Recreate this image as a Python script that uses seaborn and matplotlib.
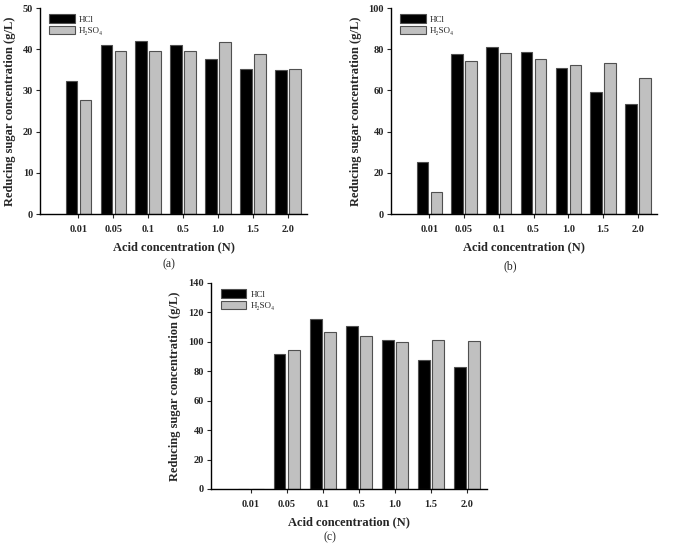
import matplotlib
matplotlib.use("Agg")
import matplotlib.pyplot as plt
import seaborn as sns
import pandas as pd
from matplotlib.patches import Patch

categories = ["0.01", "0.05", "0.1", "0.5", "1.0", "1.5", "2.0"]
acids = ["HCl", "H₂SO₄"]

hcl_a = [32.4, 41.0, 42.1, 41.0, 37.7, 35.3, 34.9]
h2so4_a = [27.6, 39.5, 39.5, 39.5, 41.7, 38.8, 35.1]

hcl_b = [25.2, 77.7, 81.1, 78.7, 71.1, 59.0, 53.5]
h2so4_b = [10.8, 74.3, 78.2, 75.1, 72.5, 73.2, 66.2]

hcl_c = [0.0, 91.9, 115.5, 110.5, 101.2, 88.0, 82.6]
h2so4_c = [0.0, 94.8, 106.6, 103.7, 99.6, 101.2, 100.7]

yticks_a = [0, 10, 20, 30, 40, 50]
yticks_b = [0, 20, 40, 60, 80, 100]
yticks_c = [0, 20, 40, 60, 80, 100, 120, 140]

sns.set_style("ticks")
plt.rcParams["font.family"] = ["Liberation Serif", "DejaVu Serif"]

W, H = 682, 545
fig = plt.figure(figsize=(W / 100, H / 100), dpi=100)


def px_axes(left, top, right, bottom):
    return fig.add_axes([left / W, 1 - bottom / H, (right - left) / W, (bottom - top) / H])


palette = {"HCl": "#000000", "H₂SO₄": "#c0c0c0"}


def panel(ax, hcl, h2so4, yticks, caption, cap_xy):
    df = pd.DataFrame({
        "Acid concentration": categories * 2,
        "Acid": [acids[0]] * len(categories) + [acids[1]] * len(categories),
        "value": list(hcl) + list(h2so4),
    })
    sns.barplot(data=df, x="Acid concentration", y="value", hue="Acid",
                order=categories, hue_order=acids, palette=palette,
                width=0.8, gap=0.18, edgecolor="#505050", linewidth=0.8,
                ax=ax, legend=False)
    ax.set_xlim(-1.1, 6.55)
    ax.set_ylim(yticks[0], yticks[-1])
    ax.set_yticks(yticks)
    ax.set_yticklabels([str(t) for t in yticks], fontweight="bold", fontsize=7.5)
    ax.set_xticks(range(len(categories)))
    ax.set_xticklabels(categories, fontweight="bold", fontsize=7.5)
    ax.tick_params(axis="y", direction="out", length=3, width=0.8, pad=2)
    ax.tick_params(axis="x", direction="out", length=3, width=0.8, pad=5)
    for s in ("top", "right"):
        ax.spines[s].set_visible(False)
    for s in ("left", "bottom"):
        ax.spines[s].set_linewidth(1.0)
        ax.spines[s].set_color("black")
    ax.set_xlabel("Acid concentration (N)", fontweight="bold", fontsize=9, labelpad=5)
    ax.set_ylabel("Reducing sugar concentration (g/L)", fontweight="bold", fontsize=9, labelpad=5)
    handles = [Patch(facecolor=palette[a], edgecolor="#505050", linewidth=0.8) for a in acids]
    ax.legend(handles, acids, loc="upper left", bbox_to_anchor=(0.015, 0.995), frameon=False,
              fontsize=6.5, handlelength=2.8, handleheight=1.0, labelspacing=0.25,
              handletextpad=0.5, borderaxespad=0.2)
    fig.text(cap_xy[0] / W, 1 - cap_xy[1] / H, caption, ha="center", va="center", fontsize=8.5)


ax_a = px_axes(40, 8, 307, 214)
panel(ax_a, hcl_a, h2so4_a, yticks_a, "(a)", (169, 264))

ax_b = px_axes(391, 8, 657, 214)
panel(ax_b, hcl_b, h2so4_b, yticks_b, "(b)", (510, 266))

ax_c = px_axes(211, 283, 487, 489)
panel(ax_c, hcl_c, h2so4_c, yticks_c, "(c)", (330, 537))

fig.savefig("out.png", dpi=100)
